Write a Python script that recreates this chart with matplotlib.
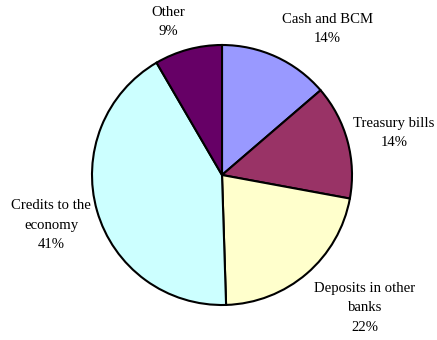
import matplotlib.pyplot as plt

# data
labels = ['Cash and BCM', 'Treasury bills', 'Deposits in other\nbanks', 'Credits to the\neconomy', 'Other']
values = [13.7, 14.2, 21.6, 42.1, 8.4]
pct_labels = ['14%', '14%', '22%', '41%', '9%']
colors = ['#9999FF', '#993366', '#FFFFCC', '#CCFFFF', '#660066']

# label placement (data units, pie radius = 1)
label_pos = [(0.808, 1.123), (1.323, 0.323), (1.10, -1.023), (-1.315, -0.385), (-0.415, 1.177)]

plt.rcParams['font.family'] = ['Liberation Serif', 'DejaVu Serif']

fig = plt.figure(figsize=(4.37, 3.40), dpi=100)
ax = fig.add_axes([0, 0, 1, 1])

ax.pie(values, colors=colors, startangle=90, counterclock=False, radius=1,
       wedgeprops={'edgecolor': 'black', 'linewidth': 1.5})

for lab, pct, (x, y) in zip(labels, pct_labels, label_pos):
    ax.text(x, y, f'{lab}\n{pct}', ha='center', va='center',
            fontsize=10.6, linespacing=1.65)

ax.set_xlim(-222 / 130, (437 - 222) / 130)
ax.set_ylim(-(340 - 175) / 130, 175 / 130)
ax.set_aspect('auto')
ax.axis('off')

plt.savefig('out.png', dpi=100, facecolor='white')
